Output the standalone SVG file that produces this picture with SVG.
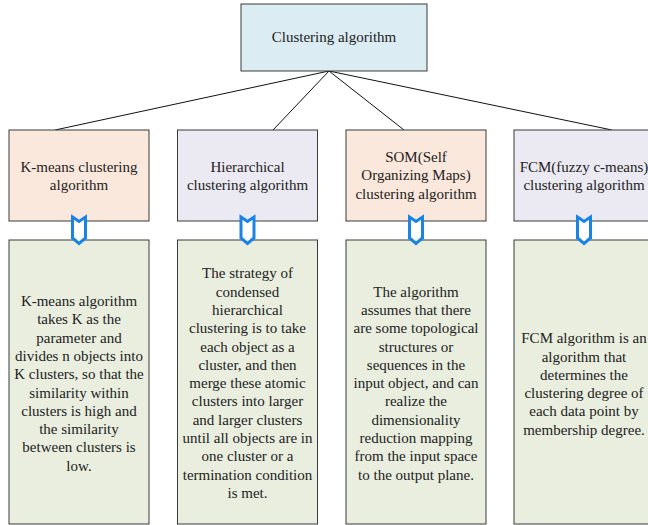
<svg xmlns="http://www.w3.org/2000/svg" width="648" height="525" viewBox="0 0 648 525">
<style>
.box{stroke:#3a3a3a;stroke-width:1}
.top{fill:#dbecf3}
.peach{fill:#fbe8dc}
.lav{fill:#ebe9f1}
.green{fill:#e9eedf}
text{font-size:15px;fill:#222;text-anchor:middle}
.conn{stroke:#111;stroke-width:1;fill:none}
.arr{fill:#fff;stroke:#1a84e6;stroke-width:3;stroke-linejoin:miter}
</style>
<rect width="648" height="525" fill="#fff"/>
<g id="connectors">
<line class="conn" x1="329" y1="71" x2="55" y2="130"/>
<line class="conn" x1="329" y1="71" x2="273" y2="130"/>
<line class="conn" x1="329" y1="71" x2="404" y2="130"/>
<line class="conn" x1="329" y1="71" x2="612" y2="130"/>
</g>
<g font-family="Times New Roman, Liberation Serif, serif">
<g id="root">
<rect class="box top" x="241" y="4" width="186" height="67"/>
<text x="334" y="42">Clustering algorithm</text>
</g>
<g id="kmeans">
<rect class="box peach" x="9" y="130" width="140" height="91"/>
<text x="79" y="172">K-means clustering</text>
<text x="79" y="190">algorithm</text>
</g>
<g id="hier">
<rect class="box lav" x="177.5" y="130" width="140" height="91"/>
<text x="247.5" y="172">Hierarchical</text>
<text x="247.5" y="190">clustering algorithm</text>
</g>
<g id="som">
<rect class="box peach" x="346" y="130" width="140" height="91"/>
<text x="416" y="162">SOM(Self</text>
<text x="416" y="180">Organizing Maps)</text>
<text x="416" y="199">clustering algorithm</text>
</g>
<g id="fcm">
<rect class="box lav" x="514" y="130" width="140" height="91"/>
<text x="584" y="172">FCM(fuzzy c-means)</text>
<text x="584" y="190">clustering algorithm</text>
</g>
<g id="kmeans-desc">
<rect class="box green" x="9" y="240" width="140" height="284"/>
<text x="79" y="306">K-means algorithm</text>
<text x="79" y="324.3">takes K as the</text>
<text x="79" y="342.6">parameter and</text>
<text x="79" y="360.9">divides n objects into</text>
<text x="79" y="379.2">K clusters, so that the</text>
<text x="79" y="397.5">similarity within</text>
<text x="79" y="415.8">clusters is high and</text>
<text x="79" y="434.1">the similarity</text>
<text x="79" y="452.4">between clusters is</text>
<text x="79" y="470.7">low.</text>
</g>
<g id="hier-desc">
<rect class="box green" x="177.5" y="240" width="140" height="284"/>
<text x="247.5" y="278.3">The strategy of</text>
<text x="247.5" y="296.6">condensed</text>
<text x="247.5" y="314.9">hierarchical</text>
<text x="247.5" y="333.2">clustering is to take</text>
<text x="247.5" y="351.5">each object as a</text>
<text x="247.5" y="369.8">cluster, and then</text>
<text x="247.5" y="388.1">merge these atomic</text>
<text x="247.5" y="406.4">clusters into larger</text>
<text x="247.5" y="424.7">and larger clusters</text>
<text x="247.5" y="443">until all objects are in</text>
<text x="247.5" y="461.3">one cluster or a</text>
<text x="247.5" y="479.6">termination condition</text>
<text x="247.5" y="497.9">is met.</text>
</g>
<g id="som-desc">
<rect class="box green" x="346" y="240" width="140" height="284"/>
<text x="416" y="296.6">The algorithm</text>
<text x="416" y="314.9">assumes that there</text>
<text x="416" y="333.2">are some topological</text>
<text x="416" y="351.5">structures or</text>
<text x="416" y="369.8">sequences in the</text>
<text x="416" y="388.1">input object, and can</text>
<text x="416" y="406.4">realize the</text>
<text x="416" y="424.7">dimensionality</text>
<text x="416" y="443">reduction mapping</text>
<text x="416" y="461.3">from the input space</text>
<text x="416" y="479.6">to the output plane.</text>
</g>
<g id="fcm-desc">
<rect class="box green" x="514" y="240" width="140" height="284"/>
<text x="584" y="343.2">FCM algorithm is an</text>
<text x="584" y="361.5">algorithm that</text>
<text x="584" y="379.8">determines the</text>
<text x="584" y="398.1">clustering degree of</text>
<text x="584" y="416.4">each data point by</text>
<text x="584" y="434.7">membership degree.</text>
</g>
</g>
<g id="arrows">
<polygon class="arr" points="72.5,217 79,221.5 85.5,217 85.5,238 79,243.5 72.5,238"/>
<polygon class="arr" points="241,217 247.5,221.5 254,217 254,238 247.5,243.5 241,238"/>
<polygon class="arr" points="409.5,217 416,221.5 422.5,217 422.5,238 416,243.5 409.5,238"/>
<polygon class="arr" points="577.5,217 584,221.5 590.5,217 590.5,238 584,243.5 577.5,238"/>
</g>
</svg>
